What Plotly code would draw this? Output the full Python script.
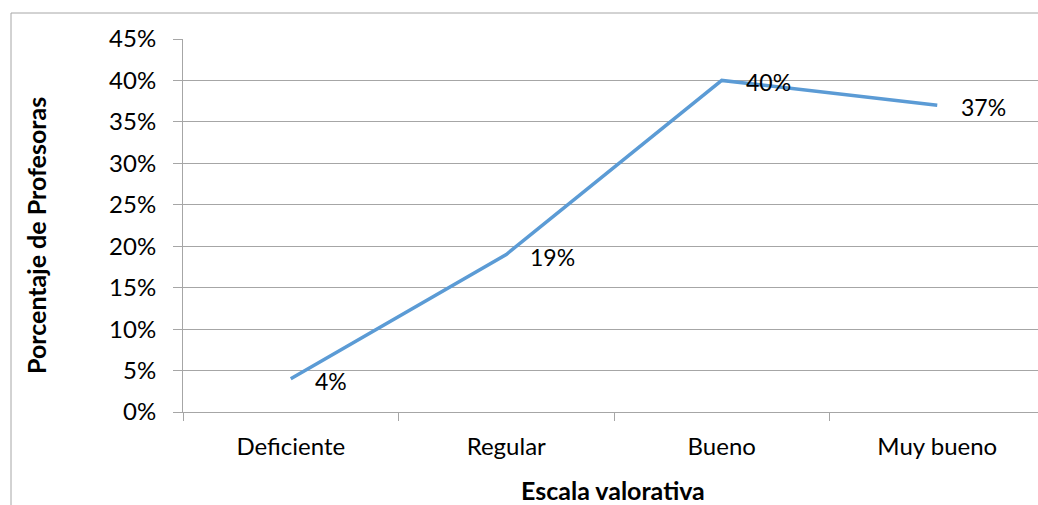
import plotly.graph_objects as go

# Escala valorativa y porcentaje de profesoras
categorias = ["Deficiente", "Regular", "Bueno", "Muy bueno"]
porcentajes = [4, 19, 40, 37]
ticks_y = [0, 5, 10, 15, 20, 25, 30, 35, 40, 45]
etiquetas_y = [f"{v}%" for v in ticks_y]

FONT = "Lato, 'Open Sans', sans-serif"
GRID = "#A6A6A6"

W, H = 1038, 505
L, R, T, B = 183, 0, 39, 93

plot_w = W - L - R
plot_h = H - T - B
cat_w = 215.5
x_hi = -0.5 + plot_w / cat_w


def px_x(p):
    return (p - L) / plot_w


def px_y(p):
    return (H - B - p) / plot_h


fig = go.Figure()
fig.add_trace(go.Scatter(
    x=categorias,
    y=porcentajes,
    mode="lines",
    line=dict(color="#5B9BD5", width=3.5),
    hoverinfo="skip",
    showlegend=False,
))

# data labels to the right of each point
for c, v in zip(categorias, porcentajes):
    fig.add_annotation(
        x=c, y=v, text=f"{v}%", showarrow=False,
        xanchor="left", yanchor="middle", xshift=22, yshift=-2,
        font=dict(family=FONT, size=23, color="#000000"),
    )

# axis titles
fig.add_annotation(
    xref="paper", yref="paper", x=px_x(613), y=px_y(490),
    text="<b>Escala valorativa</b>", showarrow=False,
    xanchor="center", yanchor="middle",
    font=dict(family=FONT, size=25, color="#000000"),
)
fig.add_annotation(
    xref="paper", yref="paper", x=px_x(36), y=px_y(236),
    text="<b>Porcentaje de Profesoras</b>", showarrow=False, textangle=-90,
    xanchor="center", yanchor="middle",
    font=dict(family=FONT, size=25, color="#000000"),
)

# outer chart frame (left and top edges)
fx = px_x(11)
fy = px_y(13)
fig.add_shape(type="line", xref="paper", yref="paper", x0=fx, x1=fx, y0=-5, y1=fy,
              line=dict(color="#A6A6A6", width=1))
fig.add_shape(type="line", xref="paper", yref="paper", x0=fx, x1=5, y0=fy, y1=fy,
              line=dict(color="#A6A6A6", width=1))

fig.update_layout(
    width=W, height=H,
    margin=dict(l=L, r=R, t=T, b=B, pad=0),
    paper_bgcolor="white", plot_bgcolor="white",
    font=dict(family=FONT, size=24, color="#000000"),
    xaxis=dict(
        type="category", categoryorder="array", categoryarray=categorias,
        range=[-0.5, x_hi],
        showline=True, linecolor=GRID, linewidth=1,
        ticks="outside", tickson="boundaries", ticklen=8, tickcolor=GRID,
        showgrid=False, zeroline=False,
        tickfont=dict(family=FONT, size=24),
        ticklabelstandoff=13,
    ),
    yaxis=dict(
        range=[0, 45], tickvals=ticks_y, ticktext=etiquetas_y,
        showline=True, linecolor=GRID, linewidth=1,
        ticks="outside", ticklen=9, tickcolor=GRID,
        showgrid=True, gridcolor=GRID, gridwidth=1, zeroline=False,
        tickfont=dict(family=FONT, size=24),
        ticklabelstandoff=12,
    ),
)

fig.write_html("out.html")
